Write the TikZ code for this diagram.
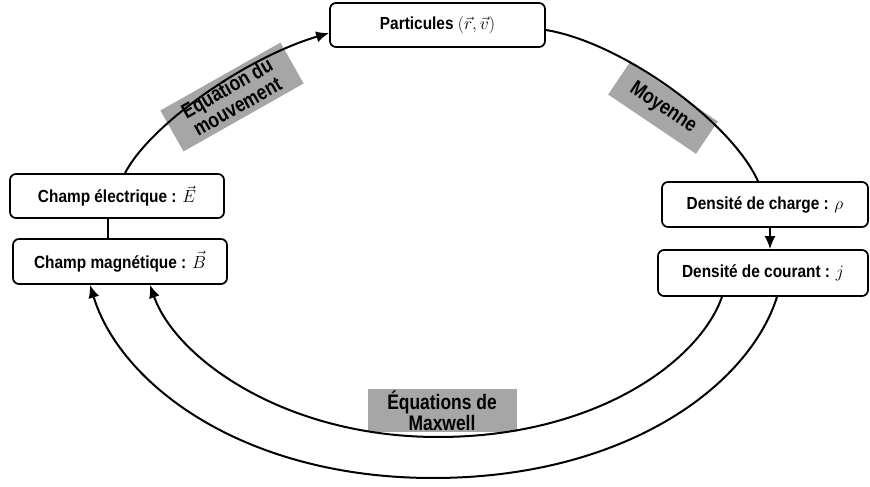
\documentclass[tikz,border=0pt]{standalone}
\usepackage{fix-cm}
\usepackage{fontspec}
\setmainfont{Liberation Sans}
\newfontfamily\boxfont[FakeStretch=0.88]{Liberation Sans}
\newfontfamily\narrowfont[FakeStretch=0.83]{Liberation Sans}
\usetikzlibrary{arrows.meta}
\definecolor{lblgray}{HTML}{A6A6A6}
\tikzset{
  box/.style={draw, line width=1.7pt, rounded corners=6pt, fill=white, align=center,
    font=\boxfont\bfseries\fontsize{17.5}{20}\selectfont, inner sep=0pt},
  lbl/.style={fill=lblgray, align=center, inner sep=0pt,
    font=\narrowfont\bfseries\fontsize{21}{21}\selectfont},
  conn/.style={line width=2pt},
  arr/.style={line width=2pt, -{Latex[length=13pt,width=11pt]}},
}
\begin{document}
\begin{tikzpicture}[x=1pt,y=1pt]
\useasboundingbox (0,0) rectangle (870,487);
% labels (behind lines)
\node[lbl, rotate=29.5, minimum width=138, minimum height=47] (leq) at (232,390) {Equation du\\mouvement};
\node[lbl, rotate=-34, minimum width=106, minimum height=39] (lmoy) at (663,379) {Moyenne};
\node[lbl, minimum width=149, minimum height=43] (lmax) at (442,76) {Équations de\\Maxwell};
% boxes
\node[box, minimum width=215, minimum height=44] (P) at (437.5,462) {Particules $(\vec{r},\vec{v})$};
\node[box, minimum width=214, minimum height=44] (E) at (117,291) {Champ électrique : $\vec{E}$};
\node[box, minimum width=214, minimum height=45] (B) at (120,225.5) {Champ magnétique : $\vec{B}$};
\node[box, minimum width=206, minimum height=45] (rho) at (765,282.5) {Densité de charge : $\rho$};
\node[box, minimum width=210, minimum height=46] (j) at (763,214) {Densité de courant : $j$};
% connectors
\draw[arr] ([xshift=8pt]E.north) .. controls (150,362) and (245,429) .. ([yshift=-8pt]P.west);
\draw[conn] ([yshift=-5pt]P.east) .. controls (620,445) and (730,367) .. ([xshift=-7pt]rho.north);
\draw[conn] ([xshift=-9pt]E.south) -- ([xshift=-12pt]B.north);
\draw[arr] ([xshift=5pt]rho.south) -- ([xshift=7pt]j.north);
\draw[arr] ([xshift=-41pt]j.south) .. controls (699,125) and (595,50) .. (438,50)
   .. controls (283,50) and (175,130) .. ([xshift=30pt]B.south);
\draw[arr] ([xshift=14pt]j.south) .. controls (749,101) and (625,9) .. (433,9)
   .. controls (243,9) and (120,103) .. ([xshift=-30pt]B.south);
\end{tikzpicture}
\end{document}
